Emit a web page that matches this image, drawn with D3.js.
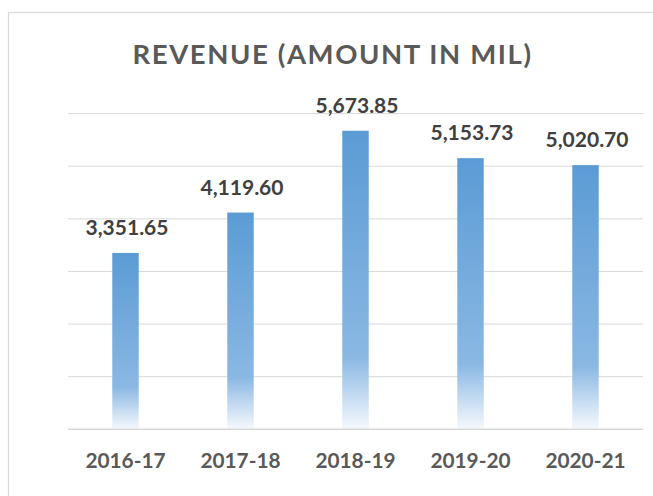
<!DOCTYPE html>
<html>
<head>
<meta charset="utf-8">
<script src="https://cdn.jsdelivr.net/npm/d3@7"></script>
<style>
  html, body { margin: 0; padding: 0; background: #fff; }
  svg { display: block; }
</style>
</head>
<body>
<div id="chart"></div>
<script>
"use strict";

const years = ["2016-17", "2017-18", "2018-19", "2019-20", "2020-21"];
const revenue = [3351.65, 4119.60, 5673.85, 5153.73, 5020.70];
const gridTicks = [0, 1000, 2000, 3000, 4000, 5000, 6000];

const width = 653, height = 496;
const font = "Lato, 'Open Sans', sans-serif";

const svg = d3.select("#chart").append("svg")
  .attr("width", width)
  .attr("height", height);

// per-bar gradient, fades out near the bottom
const grad = svg.append("defs").append("linearGradient")
  .attr("id", "barFill")
  .attr("x1", 0).attr("y1", 0).attr("x2", 0).attr("y2", 1);
grad.append("stop").attr("offset", 0).attr("stop-color", "#5b9bd5");
grad.append("stop").attr("offset", 0.76).attr("stop-color", "#8ab8e3");
grad.append("stop").attr("offset", 1).attr("stop-color", "#f6f9fd");

// chart border (runs off the right and bottom)
svg.append("rect")
  .attr("x", 8.5).attr("y", 12.5)
  .attr("width", 700).attr("height", 600)
  .attr("fill", "white")
  .attr("stroke", "#d9d9d9")
  .attr("stroke-width", 1.2);

const x = d3.scaleBand()
  .domain(years)
  .range([68, 643])
  .paddingInner(0.77)
  .paddingOuter(0.385);

const y = d3.scaleLinear()
  .domain([0, 6000])
  .range([429.3, 113.6]);

// gridlines
svg.append("g")
  .selectAll("line")
  .data(gridTicks.slice(1))
  .join("line")
  .attr("x1", 68).attr("x2", 643)
  .attr("y1", d => y(d)).attr("y2", d => y(d))
  .attr("stroke", "#d9d9d9")
  .attr("stroke-width", 1);

// bars
svg.append("g")
  .selectAll("rect")
  .data(revenue)
  .join("rect")
  .attr("x", (d, i) => x(years[i]))
  .attr("width", x.bandwidth())
  .attr("y", d => y(d))
  .attr("height", d => y(0) - y(d))
  .attr("fill", "url(#barFill)");

// baseline
svg.append("line")
  .attr("x1", 68).attr("x2", 643)
  .attr("y1", y(0)).attr("y2", y(0))
  .attr("stroke", "#d9d9d9")
  .attr("stroke-width", 1.6);

// value labels
const fmt = d3.format(",.2f");
svg.append("g")
  .selectAll("text")
  .data(revenue)
  .join("text")
  .attr("x", (d, i) => x(years[i]) + x.bandwidth() / 2 + 1.5)
  .attr("y", d => y(d) - 18)
  .attr("text-anchor", "middle")
  .attr("font-family", font)
  .attr("font-weight", "bold")
  .attr("font-size", 21)
  .attr("fill", "#404040")
  .text(d => fmt(d));

// category labels
svg.append("g")
  .selectAll("text")
  .data(years)
  .join("text")
  .attr("x", d => x(d) + x.bandwidth() / 2)
  .attr("y", 468.3)
  .attr("text-anchor", "middle")
  .attr("font-family", font)
  .attr("font-weight", "bold")
  .attr("font-size", 20.8)
  .attr("fill", "#595959")
  .text(d => d);

// title
svg.append("text")
  .attr("x", 332.5)
  .attr("y", 63.5)
  .attr("text-anchor", "middle")
  .attr("font-family", font)
  .attr("font-weight", "bold")
  .attr("font-size", 27.5)
  .attr("letter-spacing", 1.6)
  .attr("fill", "#595959")
  .text("REVENUE (AMOUNT IN MIL)");
</script>
</body>
</html>
